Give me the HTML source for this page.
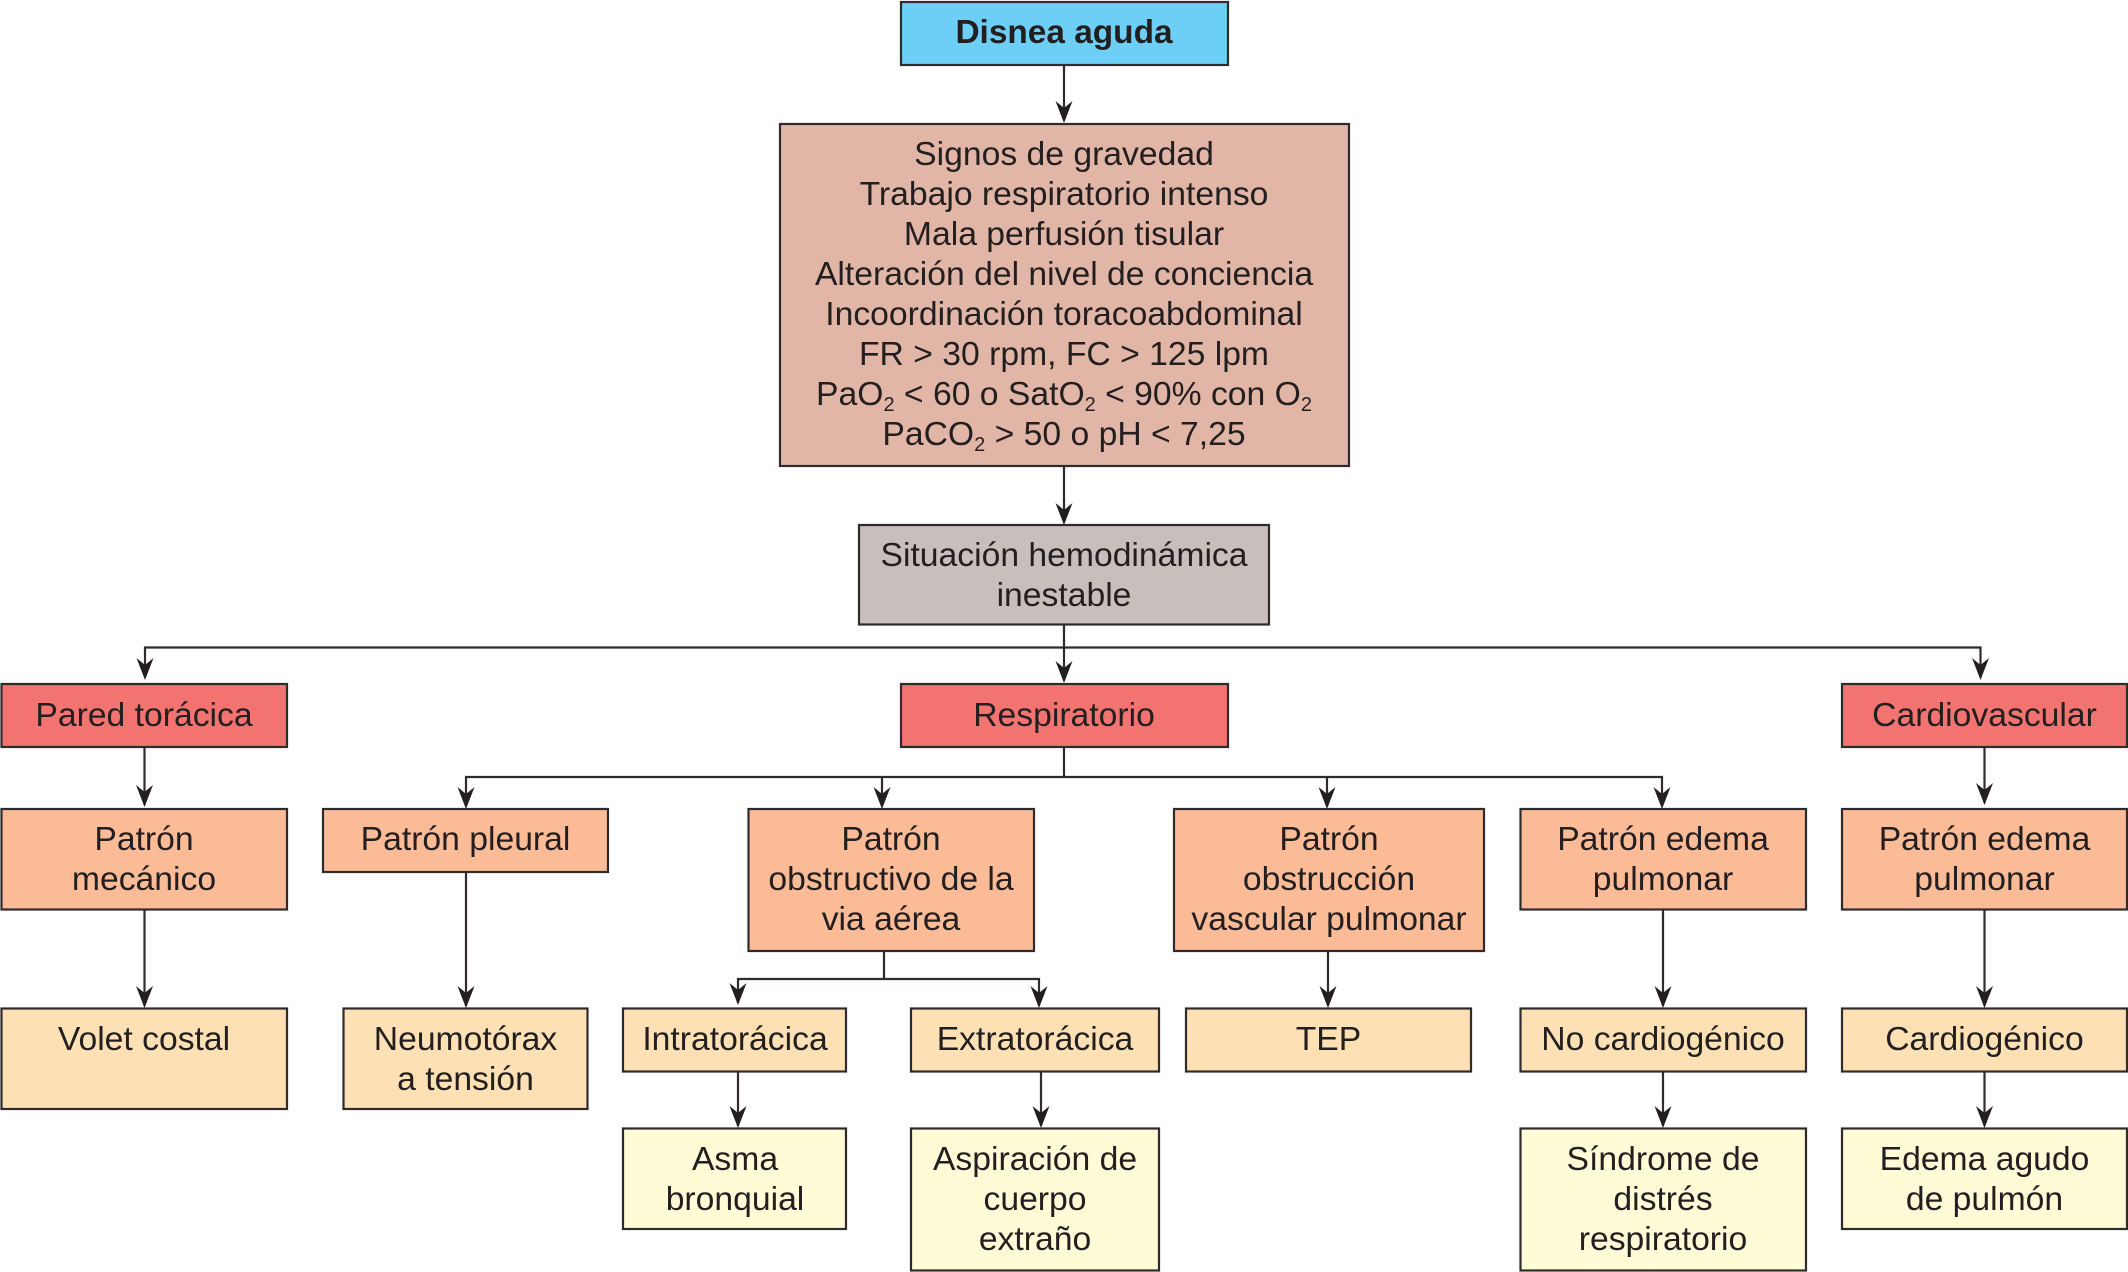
<!DOCTYPE html>
<html lang="es"><head><meta charset="utf-8"><title>Disnea aguda</title>
<style>
html,body{margin:0;padding:0;background:#fff}
svg{display:block}
text{font-family:"Liberation Sans",Arial,sans-serif;font-size:33.7px;fill:#231f20;text-anchor:middle}
.b{stroke:#2f2b2c;stroke-width:2.2}
.l{stroke:#2f2b2c;stroke-width:2.2;fill:none}
.a{fill:#231f20}
.s{font-size:20px}
</style></head><body>
<svg width="2128" height="1272" viewBox="0 0 2128 1272" xmlns="http://www.w3.org/2000/svg">
<defs><path id="h" d="M0 0L-8.500 -22L0 -15L8.500 -22Z"/></defs>
<rect width="2128" height="1272" fill="#fff"/>
<!-- connectors -->
<path class="l" d="M1064 65V120M1064 466V522M1064 625V680M145 677V647.500H1980.500V677M144.500 747V805M144.500 910V1006M1064 747V777M466 806V777H1662V806M882 777V806M1327 777V806M466 872V1006M884 951V979M738 1003V979H1039V1006M738 1072V1126M1041 1072V1126M1328 951V1006M1663 910V1006M1663 1072V1126M1984.500 747V803M1984.500 910V1006M1984.500 1072V1126"/>
<use href="#h" class="a" x="1064" y="123"/><use href="#h" class="a" x="1064" y="525"/>
<use href="#h" class="a" x="145" y="680"/><use href="#h" class="a" x="1064" y="683"/><use href="#h" class="a" x="1980.500" y="680"/>
<use href="#h" class="a" x="144.500" y="807"/><use href="#h" class="a" x="466" y="809"/><use href="#h" class="a" x="882" y="809"/><use href="#h" class="a" x="1327" y="809"/><use href="#h" class="a" x="1662" y="809"/><use href="#h" class="a" x="1984.500" y="805"/>
<use href="#h" class="a" x="144.500" y="1008"/><use href="#h" class="a" x="466" y="1008"/><use href="#h" class="a" x="738" y="1005"/><use href="#h" class="a" x="1039" y="1008"/><use href="#h" class="a" x="1328" y="1008"/><use href="#h" class="a" x="1663" y="1008"/><use href="#h" class="a" x="1984.500" y="1008"/>
<use href="#h" class="a" x="738" y="1128"/><use href="#h" class="a" x="1041" y="1128"/><use href="#h" class="a" x="1663" y="1128"/><use href="#h" class="a" x="1984.500" y="1128"/>
<!-- boxes -->
<g class="b">
<rect x="901" y="2" width="327" height="63" fill="#6dcff6"/>
<rect x="780" y="124" width="569" height="342" fill="#e2b6a6"/>
<rect x="859" y="525" width="410" height="99.500" fill="#c8bfbc"/>
<g fill="#f37370">
<rect x="1.500" y="684" width="285.500" height="63"/>
<rect x="901" y="684" width="327" height="63"/>
<rect x="1842" y="684" width="285" height="63"/>
</g>
<g fill="#fbbb96">
<rect x="1.500" y="809" width="285.500" height="100.500"/>
<rect x="323" y="809" width="285" height="63"/>
<rect x="748.500" y="809" width="285.500" height="142"/>
<rect x="1174" y="809" width="310" height="142"/>
<rect x="1520.500" y="809" width="285.500" height="100.500"/>
<rect x="1842" y="809" width="285" height="100.500"/>
</g>
<g fill="#fde1b4">
<rect x="1.500" y="1008.500" width="285.500" height="100.500"/>
<rect x="343.500" y="1008.500" width="244" height="100.500"/>
<rect x="623" y="1008.500" width="223" height="63"/>
<rect x="911" y="1008.500" width="248" height="63"/>
<rect x="1186" y="1008.500" width="285" height="63"/>
<rect x="1520.500" y="1008.500" width="285.500" height="63"/>
<rect x="1842" y="1008.500" width="285" height="63"/>
</g>
<g fill="#fffbd6">
<rect x="623" y="1128.500" width="223" height="100.500"/>
<rect x="911" y="1128.500" width="248" height="142"/>
<rect x="1520.500" y="1128.500" width="285.500" height="142"/>
<rect x="1842" y="1128.500" width="285" height="100.500"/>
</g>
</g>
<!-- text -->
<text x="1064" y="43" style="font-weight:700;font-size:33.4px">Disnea aguda</text>
<text x="1064" y="165">Signos de gravedad</text>
<text x="1064" y="205">Trabajo respiratorio intenso</text>
<text x="1064" y="245">Mala perfusión tisular</text>
<text x="1064" y="285">Alteración del nivel de conciencia</text>
<text x="1064" y="325">Incoordinación toracoabdominal</text>
<text x="1064" y="365">FR &gt; 30 rpm, FC &gt; 125 lpm</text>
<text x="1064" y="405">PaO<tspan class="s" dy="6">2</tspan><tspan dy="-6"> &lt; 60 o SatO</tspan><tspan class="s" dy="6">2</tspan><tspan dy="-6"> &lt; 90% con O</tspan><tspan class="s" dy="6">2</tspan></text>
<text x="1064" y="445">PaCO<tspan class="s" dy="6">2</tspan><tspan dy="-6"> &gt; 50 o pH &lt; 7,25</tspan></text>
<text x="1064" y="566">Situación hemodinámica</text>
<text x="1064" y="606">inestable</text>
<text x="144" y="726">Pared torácica</text>
<text x="1064" y="726">Respiratorio</text>
<text x="1984.500" y="726">Cardiovascular</text>
<text x="144" y="850">Patrón</text><text x="144" y="890">mecánico</text>
<text x="465.500" y="850">Patrón pleural</text>
<text x="891" y="850">Patrón</text><text x="891" y="890">obstructivo de la</text><text x="891" y="930">via aérea</text>
<text x="1329" y="850">Patrón</text><text x="1329" y="890">obstrucción</text><text x="1329" y="930">vascular pulmonar</text>
<text x="1663" y="850">Patrón edema</text><text x="1663" y="890">pulmonar</text>
<text x="1984.500" y="850">Patrón edema</text><text x="1984.500" y="890">pulmonar</text>
<text x="144" y="1050">Volet costal</text>
<text x="465.500" y="1050">Neumotórax</text><text x="465.500" y="1090">a tensión</text>
<text x="735" y="1050">Intratorácica</text>
<text x="1035" y="1050">Extratorácica</text>
<text x="1328.500" y="1050">TEP</text>
<text x="1663" y="1050">No cardiogénico</text>
<text x="1984.500" y="1050">Cardiogénico</text>
<text x="735" y="1170">Asma</text><text x="735" y="1210">bronquial</text>
<text x="1035" y="1170">Aspiración de</text><text x="1035" y="1210">cuerpo</text><text x="1035" y="1250">extraño</text>
<text x="1663" y="1170">Síndrome de</text><text x="1663" y="1210">distrés</text><text x="1663" y="1250">respiratorio</text>
<text x="1984.500" y="1170">Edema agudo</text><text x="1984.500" y="1210">de pulmón</text>
</svg>
</body></html>
